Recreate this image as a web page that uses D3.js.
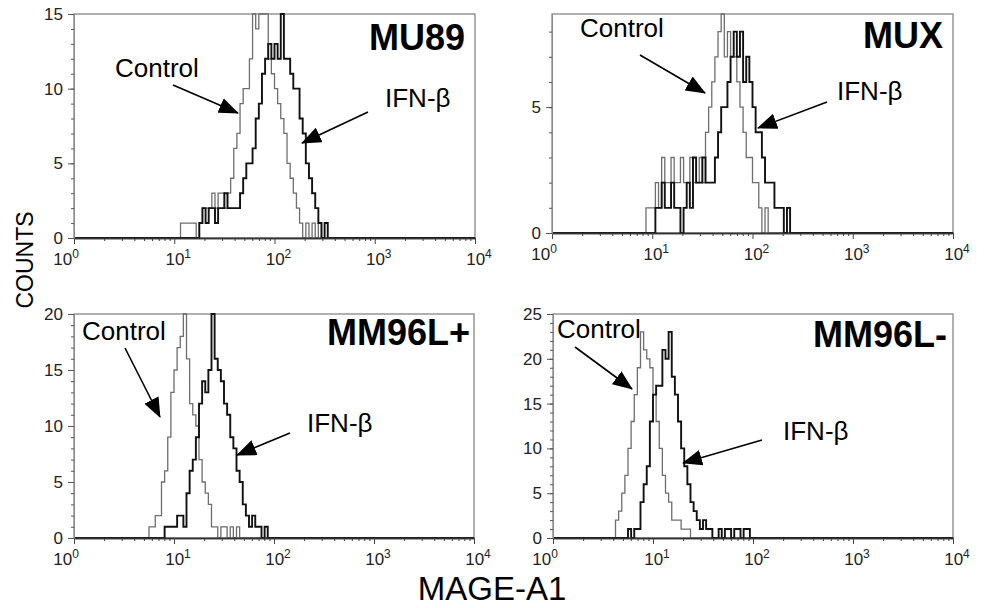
<!DOCTYPE html>
<html>
<head>
<meta charset="utf-8">
<script src="https://cdn.jsdelivr.net/npm/d3@7"></script>
<style>
body { margin: 0; background: #fff; }
text { font-family: "Liberation Sans", Arial, Helvetica, sans-serif; }
</style>
</head>
<body>
<svg id="chart" width="985" height="608"></svg>
<script>
// flow cytometry histograms: 64 channels per decade, counts read every 2 channels
var channelsPerDecade = 64;
var binChannels = 2;

var panelNames = ["MU89", "MUX", "MM96L+", "MM96L-"];
var yMaxes = [15, 8.7, 20, 25];
var yTickValues = [[0, 5, 10, 15], [0, 5], [0, 5, 10, 15, 20], [0, 5, 10, 15, 20, 25]];
var decadeExponents = ["0", "1", "2", "3", "4"];

// MU89
var mu89ControlStart = 68;
var mu89Control = [1, 1, 1, 1, 1, 0, 1, 2, 2, 2, 3, 2, 3, 3, 2, 3, 4, 6, 7, 9, 10, 10, 12, 15, 14, 15, 15, 15, 12, 11, 10, 9, 8, 7, 5, 4, 3, 2, 1, 0, 1, 0, 1, 0, 1];
var mu89IfnStart = 80;
var mu89Ifn = [1, 2, 1, 2, 2, 1, 2, 2, 3, 2, 2, 2, 2, 3, 4, 5, 5, 6, 8, 9, 11, 12, 13, 12, 13, 12, 15, 12, 12, 11, 10, 10, 8, 7, 5, 4, 3, 2, 1, 0, 1];

// MUX
var muxControlStart = 60;
var muxControl = [1, 1, 1, 2, 1, 3, 2, 2, 3, 2, 2, 3, 2, 2, 3, 2, 2, 3, 2, 4, 5, 6, 7, 8, 9, 7, 8, 7, 7, 6, 5, 4, 3, 3, 2, 2, 1, 0, 1];
var muxIfnStart = 66;
var muxIfn = [1, 1, 2, 1, 1, 2, 1, 1, 0, 1, 2, 1, 3, 2, 2, 3, 2, 2, 2, 3, 4, 5, 5, 6, 7, 8, 7, 8, 6, 7, 6, 5, 4, 4, 3, 2, 2, 2, 1, 1, 1, 0, 1];

// MM96L+
var mm96pControlStart = 46;
var mm96pControl = [0, 1, 1, 2, 2, 5, 6, 9, 13, 15, 17, 18, 20, 16, 12, 11, 10, 7, 5, 4, 3, 1, 1, 0, 1, 1, 0, 1, 0, 1];
var mm96pIfnStart = 58;
var mm96pIfn = [1, 1, 1, 1, 2, 2, 1, 4, 6, 7, 9, 12, 14, 13, 15, 20, 16, 15, 14, 12, 11, 9, 8, 6, 5, 3, 2, 1, 2, 1, 1, 0, 1];

// MM96L-
var mm96mControlStart = 40;
var mm96mControl = [2, 3, 5, 7, 10, 13, 16, 19, 23, 21, 20, 19, 16, 13, 10, 7, 5, 4, 2, 2, 2, 1, 1, 1];
var mm96mIfnStart = 48;
var mm96mIfn = [1, 0, 1, 1, 4, 6, 8, 13, 16, 17, 17, 21, 20, 23, 18, 16, 13, 10, 8, 6, 4, 3, 2, 1, 2, 1, 1, 0, 0, 1, 0, 1, 1, 0, 1, 1, 0, 1, 1];

var controls = [[mu89ControlStart, mu89Control], [muxControlStart, muxControl], [mm96pControlStart, mm96pControl], [mm96mControlStart, mm96mControl]];
var ifns = [[mu89IfnStart, mu89Ifn], [muxIfnStart, muxIfn], [mm96pIfnStart, mm96pIfn], [mm96mIfnStart, mm96mIfn]];

// layout of the four frames
var frames = [
  {left: 74, top: 14, right: 475, bottom: 238, titleX: 465, titleY: 50},
  {left: 552, top: 14, right: 953, bottom: 233, titleX: 943, titleY: 48},
  {left: 74, top: 314, right: 474, bottom: 538, titleX: 470, titleY: 345},
  {left: 553, top: 314, right: 953, bottom: 538, titleX: 947, titleY: 347}
];

// labels and arrows (page coords)
var notes = [
  [{t: "Control", x: 115, y: 77, ax: 173, ay: 85, bx: 238, by: 113}, {t: "IFN-\u03b2", x: 385, y: 107, ax: 368, ay: 112, bx: 302, by: 143}],
  [{t: "Control", x: 580, y: 37, ax: 640, ay: 55, bx: 705, by: 93}, {t: "IFN-\u03b2", x: 837, y: 100, ax: 827, ay: 102, bx: 758, by: 128}],
  [{t: "Control", x: 82, y: 340, ax: 125, ay: 348, bx: 160, by: 417}, {t: "IFN-\u03b2", x: 307, y: 432, ax: 290, ay: 433, bx: 237, by: 455}],
  [{t: "Control", x: 557, y: 338, ax: 575, ay: 347, bx: 632, by: 389}, {t: "IFN-\u03b2", x: 783, y: 440, ax: 762, ay: 440, bx: 683, by: 463}]
];

var svg = d3.select("#chart");

svg.append("defs").append("marker")
  .attr("id", "head").attr("markerUnits", "userSpaceOnUse")
  .attr("markerWidth", 20).attr("markerHeight", 16)
  .attr("refX", 19).attr("refY", 8).attr("orient", "auto")
  .append("path").attr("d", "M0,0L20,8L0,16Z").attr("fill", "#000");

var toPoints = function(series) {
  var start = series[0], counts = series[1], pts = [[1, 0]];
  counts.forEach(function(c, i) {
    pts.push([Math.pow(10, (start + i * binChannels) / channelsPerDecade), c]);
  });
  pts.push([Math.pow(10, (start + counts.length * binChannels) / channelsPerDecade), 0]);
  pts.push([1e4, 0]);
  return pts;
};

frames.forEach(function(f, p) {
  var w = f.right - f.left, h = f.bottom - f.top;
  var x = d3.scaleLog().domain([1, 1e4]).range([0, w]);
  var y = d3.scaleLinear().domain([0, yMaxes[p]]).range([h, 0]).clamp(true);
  var g = svg.append("g").attr("transform", "translate(" + f.left + "," + f.top + ")");

  g.append("rect").attr("width", w).attr("height", h)
    .attr("fill", "none").attr("stroke", "#8f8f8f").attr("stroke-width", 1.4);

  var line = d3.line().x(function(d) { return x(d[0]); }).y(function(d) { return y(d[1]); })
    .curve(d3.curveStepAfter);

  g.append("path").datum(toPoints(controls[p])).attr("d", line)
    .attr("fill", "none").attr("stroke", "#6e6e6e").attr("stroke-width", 1.3);
  g.append("path").datum(toPoints(ifns[p])).attr("d", line)
    .attr("fill", "none").attr("stroke", "#111").attr("stroke-width", 1.9);

  // x axis: minor + decade ticks
  var minor = x.ticks().filter(function(v) { return Math.abs(Math.log10(v) % 1) > 1e-6; });
  var xa = g.append("g").attr("transform", "translate(0," + h + ")");
  xa.call(d3.axisBottom(x).tickValues(minor).tickSize(3).tickSizeOuter(0).tickFormat(""));
  xa.append("g").call(d3.axisBottom(x).tickValues([1, 10, 100, 1000, 10000]).tickSize(6).tickSizeOuter(0).tickFormat(""));
  xa.selectAll("path.domain").attr("stroke", "#333").attr("stroke-width", 1.7);
  xa.selectAll(".tick line").attr("stroke", "#444");

  decadeExponents.forEach(function(e, i) {
    var cx = x(Math.pow(10, i)) + (i === 0 ? -8 : 4);
    var t = xa.append("text").attr("x", cx).attr("y", 27).attr("text-anchor", "middle")
      .attr("font-size", 17).attr("fill", "#222");
    t.append("tspan").text("10");
    t.append("tspan").attr("dy", -7).attr("font-size", 12).text(e);
  });

  // y axis
  var ya = g.append("g");
  ya.call(d3.axisLeft(y).tickValues(d3.range(0, Math.floor(yMaxes[p]) + 1)).tickSize(3).tickSizeOuter(0).tickFormat(""));
  ya.append("g").call(d3.axisLeft(y).tickValues(yTickValues[p]).tickSize(6).tickSizeOuter(0).tickPadding(5))
    .selectAll("text").attr("font-size", 17).attr("fill", "#222")
    .style("font-family", "'Liberation Sans', Arial, sans-serif");
  ya.selectAll("path.domain").attr("stroke", "#8a8a8a");
  ya.selectAll(".tick line").attr("stroke", "#555");

  svg.append("text").attr("x", f.titleX).attr("y", f.titleY).attr("text-anchor", "end")
    .attr("font-size", 36).attr("font-weight", "bold").attr("fill", "#000").text(panelNames[p]);

  notes[p].forEach(function(n) {
    svg.append("text").attr("x", n.x).attr("y", n.y).attr("font-size", 26).attr("fill", "#000").text(n.t);
    svg.append("line").attr("x1", n.ax).attr("y1", n.ay).attr("x2", n.bx).attr("y2", n.by)
      .attr("stroke", "#000").attr("stroke-width", 1.6).attr("marker-end", "url(#head)");
  });
});

svg.append("text").attr("transform", "translate(33,260) rotate(-90)").attr("text-anchor", "middle")
  .attr("font-size", 23).attr("fill", "#000").text("COUNTS");

svg.append("text").attr("x", 492).attr("y", 600).attr("text-anchor", "middle")
  .attr("font-size", 33).attr("fill", "#000").text("MAGE-A1");
</script>
</body>
</html>
